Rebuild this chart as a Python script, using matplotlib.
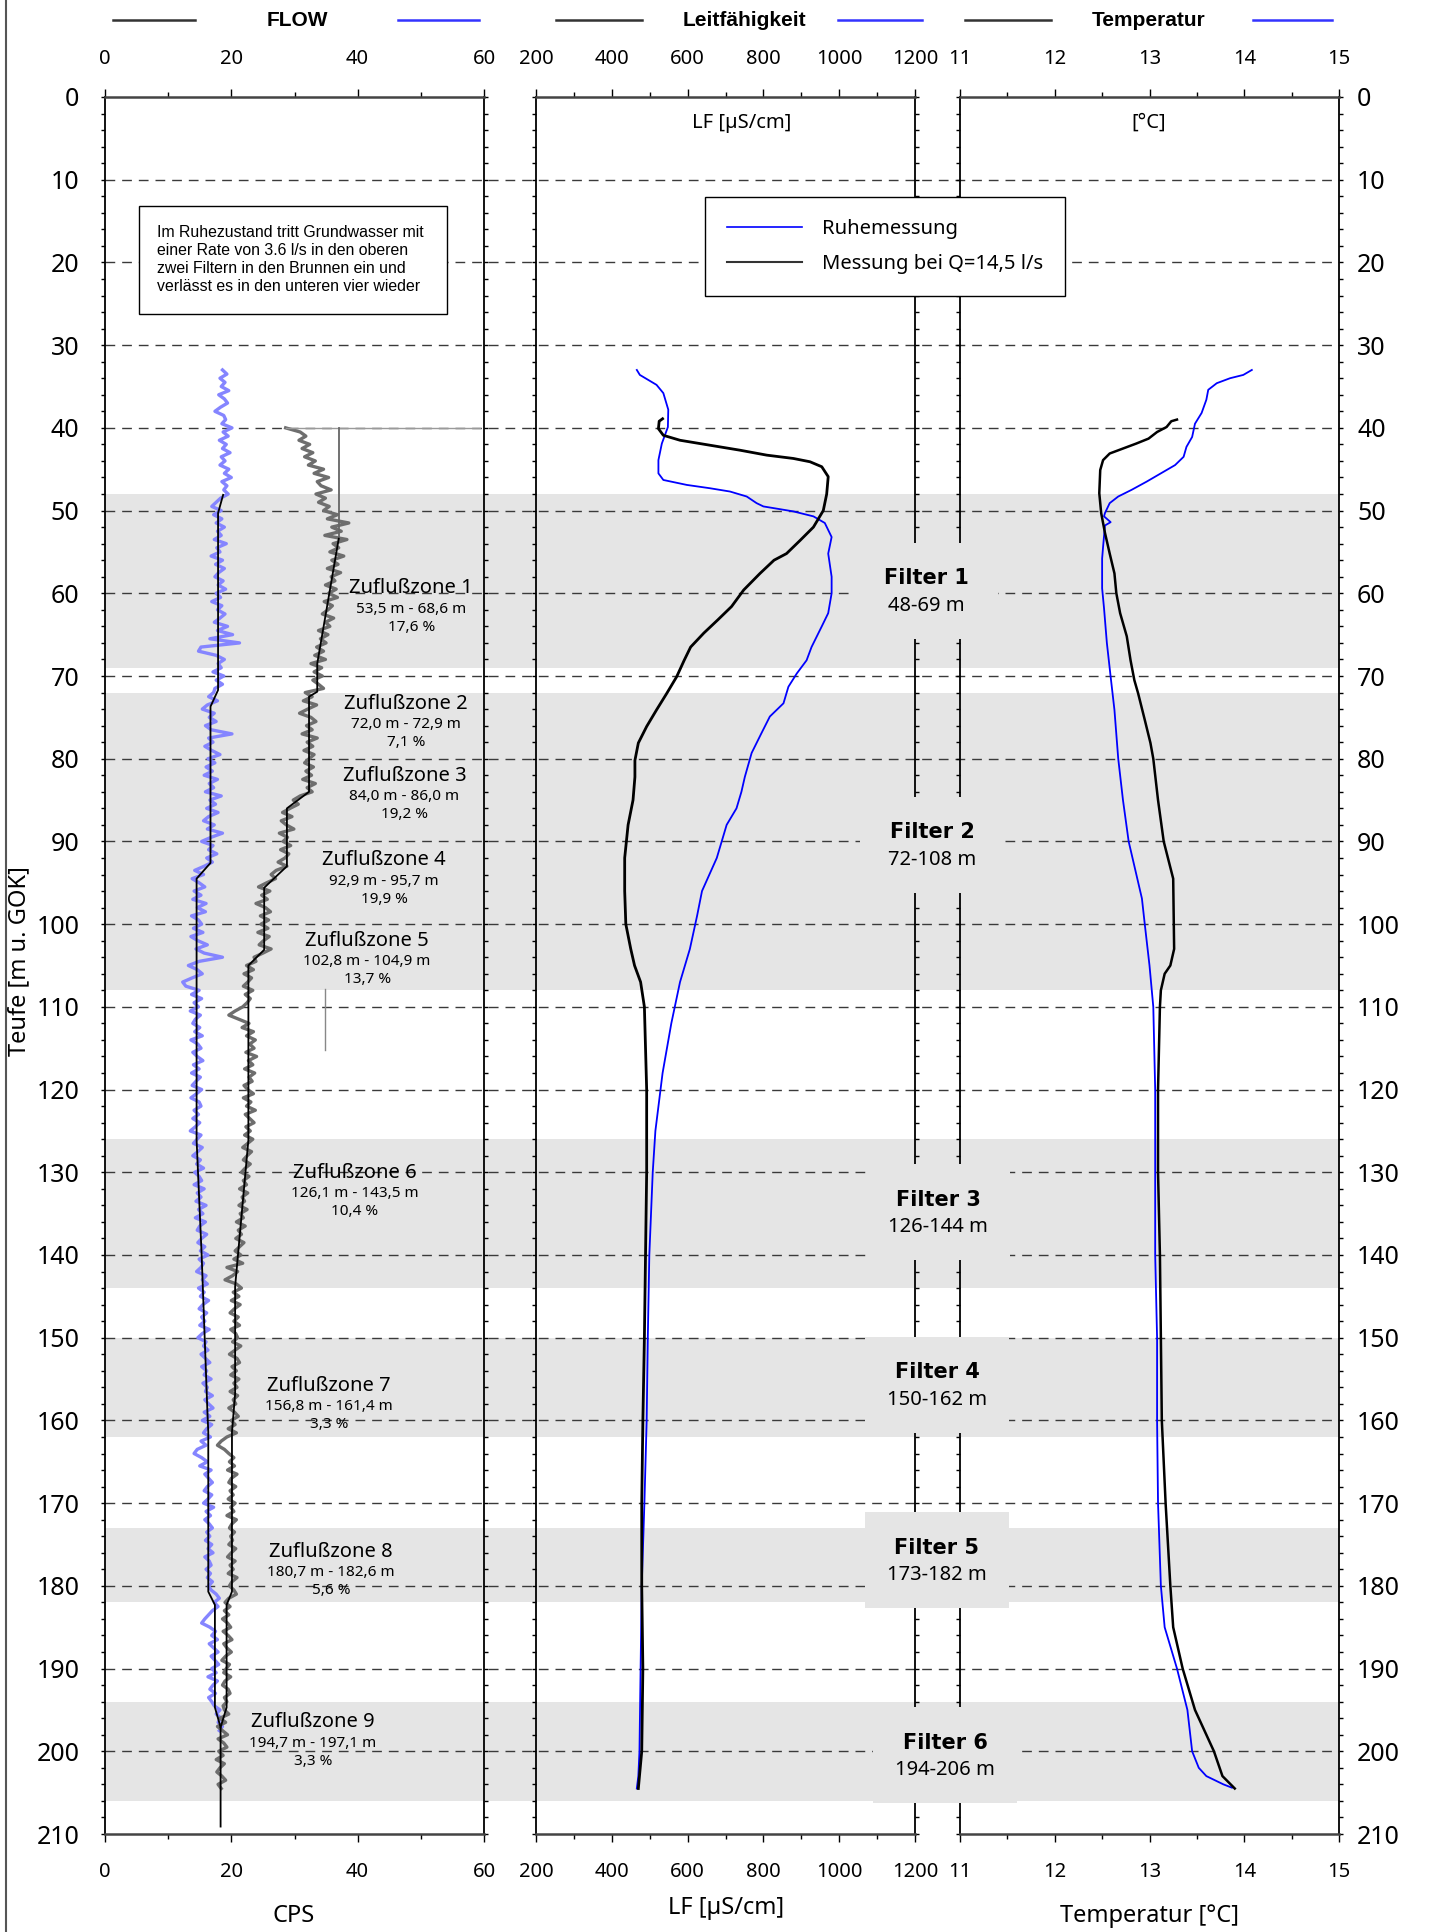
import numpy as np
import matplotlib
matplotlib.use("Agg")
import matplotlib.pyplot as plt
from matplotlib.lines import Line2D
from matplotlib.patches import Rectangle
from matplotlib.transforms import blended_transform_factory

plt.rcParams['font.family'] = ['Noto Sans', 'DejaVu Sans']

# ---------------- data ----------------
# filter sections of the well (m below ground)
filter_top = [48, 72, 126, 150, 173, 194]
filter_bottom = [69, 108, 144, 162, 182, 206]
filter_names = ["Filter 1", "Filter 2", "Filter 3", "Filter 4", "Filter 5", "Filter 6"]
filter_ranges = ["48-69 m", "72-108 m", "126-144 m", "150-162 m", "173-182 m", "194-206 m"]

# inflow zones from the flowmeter
zone_names = ["Zuflußzone 1", "Zuflußzone 2", "Zuflußzone 3", "Zuflußzone 4", "Zuflußzone 5",
              "Zuflußzone 6", "Zuflußzone 7", "Zuflußzone 8", "Zuflußzone 9"]
zone_ranges = ["53,5 m - 68,6 m", "72,0 m - 72,9 m", "84,0 m - 86,0 m", "92,9 m - 95,7 m",
               "102,8 m - 104,9 m", "126,1 m - 143,5 m", "156,8 m - 161,4 m",
               "180,7 m - 182,6 m", "194,7 m - 197,1 m"]
zone_shares = ["17,6 %", "7,1 %", "19,2 %", "19,9 %", "13,7 %", "10,4 %", "3,3 %", "5,6 %", "3,3 %"]

# flowmeter, Ruhemessung (CPS), every 0.5 m from 33 m
ruhe_depth = np.arange(33.0, 197.75, 0.5)
ruhe_cps = [
    18.6, 19.3, 18.2, 19.0, 18.4, 19.6, 18.0, 18.9, 19.4, 18.3,
    17.4, 18.8, 19.1, 18.5, 20.1, 18.7, 19.5, 18.1, 19.2, 18.6,
    19.8, 18.4, 19.0, 18.2, 19.6, 18.9, 20.0, 18.5, 19.3, 18.8,
    19.5, 18.3, 17.6, 16.9, 18.4, 17.2, 18.5, 17.6, 18.9, 17.8,
    18.4, 17.3, 19.2, 17.7, 18.2, 16.8, 18.6, 17.5, 18.9, 18.0,
    17.4, 18.7, 17.9, 19.1, 17.6, 18.3, 16.9, 18.5, 17.8, 19.0,
    18.2, 17.3, 19.4, 17.8, 20.2, 16.6, 21.3, 15.2, 14.8, 17.6,
    18.9, 17.9, 18.4, 17.1, 18.8, 17.6, 18.6, 17.4, 17.2, 16.4,
    17.8, 16.2, 15.4, 17.3, 16.5, 17.6, 15.9, 16.8, 20.1, 16.4,
    17.1, 15.8, 16.9, 18.2, 16.3, 17.4, 16.0, 17.0, 15.7, 17.8,
    16.5, 17.2, 15.9, 18.4, 16.6, 17.5, 16.1, 17.9, 16.4, 15.6,
    17.3, 16.2, 18.6, 16.8, 15.3, 17.1, 16.4, 17.7, 16.1, 17.0,
    15.7, 14.2, 15.6, 13.8, 14.9, 15.8, 14.1, 15.2, 13.9, 16.0,
    14.6, 15.9, 13.7, 14.8, 15.3, 14.0, 15.5, 13.6, 14.7, 16.2,
    14.4, 15.7, 18.6, 14.9, 13.2, 14.6, 15.4, 13.8, 12.3, 12.8,
    14.9, 13.7, 15.3, 14.1, 14.8, 13.5, 15.1, 14.3, 13.9, 15.0,
    14.2, 15.4, 13.6, 14.7, 15.2, 13.9, 14.6, 15.5, 14.0, 14.9,
    13.7, 15.1, 14.4, 13.8, 15.3, 14.5, 13.6, 14.9, 15.2, 14.1,
    14.8, 13.9, 15.0, 14.3, 13.5, 15.2, 14.6, 14.0, 15.4, 14.7,
    13.9, 15.1, 14.5, 15.6, 14.2, 14.9, 15.3, 14.1, 15.7, 14.6,
    15.2, 14.4, 16.0, 14.8, 15.5, 14.3, 15.9, 15.0, 14.6, 16.1,
    15.3, 14.7, 15.8, 15.1, 16.3, 14.9, 15.6, 15.2, 14.5, 16.0,
    15.4, 16.2, 14.8, 15.7, 15.1, 16.4, 15.5, 14.9, 16.1, 15.3,
    15.8, 15.0, 16.5, 15.4, 14.7, 16.0, 15.6, 16.3, 15.2, 15.9,
    16.6, 15.3, 16.1, 15.7, 16.8, 15.5, 16.2, 15.9, 17.0, 15.8,
    16.4, 17.1, 15.7, 16.6, 15.4, 16.9, 16.1, 15.6, 16.7, 15.2,
    16.0, 14.6, 14.1, 15.3, 16.2, 15.0, 16.8, 15.8, 16.4, 17.0,
    16.2, 15.7, 16.9, 16.3, 15.6, 17.2, 16.0, 16.7, 15.8, 16.5,
    17.0, 16.1, 16.6, 15.9, 16.9, 16.3, 17.1, 15.8, 16.5, 16.8,
    16.0, 16.7, 16.2, 17.0, 16.4, 16.8, 17.6, 18.1, 17.3, 17.9,
    17.0, 16.4, 15.8, 15.3, 16.6, 17.5, 16.9, 17.8, 16.5, 17.2,
    17.9, 16.8, 17.4, 18.0, 16.9, 17.6, 16.3, 17.8, 17.1, 16.6,
    17.5, 16.4, 16.9, 17.3, 18.2, 17.6, 18.4, 17.9, 18.6, 18.1,
]

# flowmeter, Messung bei Q=14,5 l/s (CPS), every 0.5 m from 40 m
pump_depth = np.arange(40.0, 204.75, 0.5)
pump_cps = [
    28.6, 30.9, 31.8, 30.7, 32.4, 31.2, 32.9, 31.6, 33.3, 32.2,
    34.6, 33.1, 35.4, 33.6, 34.2, 35.8, 33.4, 34.9, 33.8, 35.5,
    34.6, 36.8, 35.2, 38.6, 35.9, 37.4, 34.8, 38.3, 36.1, 37.0,
    35.6, 37.8, 35.9, 36.9, 35.2, 37.3, 35.8, 36.4, 34.9, 36.6,
    35.4, 36.8, 34.7, 36.0, 35.3, 34.4, 36.2, 34.9, 35.6, 33.8,
    35.3, 34.1, 35.0, 33.5, 34.6, 33.2, 34.9, 32.6, 34.3, 33.1,
    34.4, 32.9, 33.8, 34.6, 31.7, 32.8, 31.4, 33.5, 32.1, 30.8,
    32.6, 33.4, 31.9, 32.8, 31.2, 33.6, 32.0, 32.9, 31.5, 33.1,
    32.3, 31.6, 33.0, 31.8, 32.7, 31.3, 33.3, 32.0, 32.8, 30.9,
    29.8, 30.6, 29.3, 28.1, 29.6, 27.9, 28.7, 29.9, 27.6, 28.9,
    28.2, 29.4, 27.8, 29.1, 28.5, 27.4, 28.8, 27.1, 26.3, 27.0,
    25.6, 24.3, 26.1, 24.8, 25.7, 23.9, 25.4, 26.2, 24.6, 25.9,
    24.7, 25.8, 24.2, 26.0, 25.1, 24.4, 26.3, 25.0, 23.6, 23.9,
    22.4, 23.5, 22.0, 23.2, 22.6, 21.9, 23.4, 22.2, 23.0, 22.5,
    21.8, 20.6, 19.6, 21.2, 22.8, 21.7, 23.5, 22.4, 23.8, 22.9,
    23.6, 22.3, 24.0, 22.7, 23.4, 22.1, 23.7, 22.8, 23.3, 22.0,
    22.6, 23.5, 21.9, 23.1, 22.4, 23.8, 22.2, 22.9, 23.6, 22.3,
    23.0, 22.1, 23.4, 22.6, 21.8, 23.2, 22.5, 21.9, 23.0, 22.2,
    21.6, 22.8, 21.9, 22.4, 21.3, 22.6, 21.7, 22.1, 21.2, 22.5,
    21.4, 21.9, 20.8, 22.2, 21.1, 21.6, 20.7, 22.0, 21.3, 20.6,
    21.5, 20.4, 21.8, 19.3, 21.0, 20.2, 19.0, 20.8, 21.6, 20.3,
    21.2, 20.0, 21.4, 20.5, 19.8, 21.1, 20.4, 21.3, 19.9, 20.7,
    21.0, 20.2, 21.5, 20.6, 19.7, 20.9, 21.3, 20.1, 20.8, 19.9,
    21.2, 20.4, 20.9, 19.8, 21.0, 20.3, 20.7, 19.6, 20.5, 21.1,
    20.0, 20.6, 19.5, 20.8, 19.3, 18.4, 17.8, 18.9, 19.6, 20.4,
    19.7, 20.5, 19.4, 20.9, 20.0, 19.6, 20.7, 19.8, 20.3, 19.5,
    20.6, 19.9, 20.4, 19.3, 20.8, 20.1, 19.7, 20.5, 19.9, 20.2,
    19.6, 20.7, 20.0, 19.4, 20.6, 19.8, 20.3, 19.5, 20.9, 20.1,
    19.7, 20.4, 20.8, 19.6, 19.0, 19.8, 18.9, 19.6, 18.6, 19.4,
    19.9, 18.7, 19.5, 20.1, 18.8, 19.3, 20.0, 19.1, 18.5, 19.7,
    19.2, 18.8, 19.9, 19.0, 18.6, 19.5, 19.8, 18.9, 19.3, 18.7,
    18.9, 19.6, 18.2, 19.1, 17.8, 18.6, 19.4, 17.9, 18.8, 19.3,
    18.0, 18.7, 17.6, 18.9, 18.2, 17.7, 18.5, 19.1, 17.9, 18.4,
]
# first logged point of the pumping run (probe entering at 40 m)
pump_start_cps = [59.3, 28.6]
pump_start_depth = [40.0, 40.0]

# fitted flow profiles
ruhe_fit_cps = [18.7, 17.9, 17.9, 16.7, 16.7, 14.5, 14.5, 15.3, 16.2, 16.35, 16.35, 17.4, 17.4, 18.3, 18.3]
ruhe_fit_depth = [48.1, 50.3, 71.7, 73.7, 92.6, 94.5, 126.1, 140.0, 158.7, 161.4, 180.7, 182.3, 194.7, 197.1, 209.1]
pump_fit_top_cps = [37.0, 37.0]
pump_fit_top_depth = [40.0, 53.4]
pump_fit_cps = [37.0, 33.6, 33.6, 32.3, 32.3, 28.8, 28.8, 25.2, 25.2, 22.7, 22.7, 20.6, 20.6,
                20.1, 20.1, 19.25, 19.25, 18.3]
pump_fit_depth = [53.4, 68.5, 71.9, 72.5, 84.0, 86.0, 93.0, 95.6, 103.1, 105.0, 126.1, 143.8, 156.8,
                  161.4, 180.7, 182.3, 194.7, 197.1]
mark_cps = [34.9, 34.9]
mark_depth = [107.8, 115.2]

# conductivity (uS/cm)
lf_ruhe_depth = [33.0, 33.6, 34.8, 35.8, 37.8, 39.9, 41.9, 43.9, 45.5, 46.3, 46.9, 47.3, 47.7, 48.3,
                 49.1, 49.5, 50.1, 50.7, 51.5, 53.2, 55.2, 58.0, 60.0, 62.4, 64.0, 66.5, 68.1, 69.7,
                 71.3, 73.3, 74.9, 76.9, 79.3, 82.2, 84, 86, 88, 92, 96, 99, 103, 107, 112, 118,
                 125, 130, 140, 150, 160, 170, 180, 190, 200, 203, 204.5]
lf_ruhe = [466, 474, 518, 536, 549, 548, 532, 523, 523, 536, 598, 659, 712, 756,
           782, 800, 879, 932, 962, 980, 971, 980, 980, 971, 954, 927, 914, 888,
           866, 853, 817, 795, 769, 751, 742, 729, 703, 677, 638, 625, 606, 580, 557, 534,
           515, 508, 499, 495, 492, 486, 479, 476, 473, 470, 466]
lf_pump_depth = [38.9, 39.2, 40.1, 40.9, 41.5, 42.1, 42.7, 43.3, 43.7, 44.1, 44.7, 45.9, 48.0, 50.0,
                 52.0, 53.6, 55.2, 56.0, 57.6, 59.6, 61.6, 63.2, 64.8, 66.5, 68.1, 70.1, 72.1, 74.1,
                 76.1, 78.1, 80.2, 82.2, 85, 88, 92, 96, 100, 103, 105, 107, 110, 115, 120, 130,
                 140, 150, 160, 170, 180, 190, 200, 204.5]
lf_pump = [534, 525, 523, 536, 580, 659, 738, 809, 879, 923, 954, 971, 967, 958,
           932, 897, 861, 828, 791, 748, 716, 680, 643, 608, 591, 571, 545, 518,
           492, 470, 461, 461, 456, 443, 434, 434, 437, 450, 460, 476, 486, 489, 492, 492,
           489, 486, 482, 479, 479, 482, 479, 470]

# temperature (degC)
t_ruhe_depth = [33.0, 33.6, 34.0, 34.6, 35.4, 36.6, 38.2, 39.5, 41.1, 42.3, 43.5, 44.5, 45.3, 46.5,
                47.5, 48.3, 49.1, 50.3, 50.7, 51.4, 51.8, 54.4, 55.8, 59.4, 61.8, 66.0, 70.1, 74.1,
                80.0, 85, 90.0, 96.9, 100, 105, 110, 115, 120, 130, 140, 150, 160, 170, 180, 185,
                190, 195, 200, 202, 203, 204, 204.4]
t_ruhe = [14.08, 13.99, 13.85, 13.71, 13.62, 13.60, 13.55, 13.48, 13.45, 13.39, 13.36, 13.27, 13.15, 12.97,
          12.81, 12.67, 12.58, 12.53, 12.52, 12.59, 12.53, 12.51, 12.50, 12.50, 12.52, 12.55, 12.59, 12.63,
          12.67, 12.72, 12.78, 12.92, 12.95, 13.00, 13.04, 13.05, 13.06, 13.06, 13.06, 13.08, 13.08, 13.09,
          13.12, 13.16, 13.29, 13.40, 13.45, 13.52, 13.60, 13.78, 13.87]
t_pump_depth = [39.0, 39.2, 39.9, 40.5, 41.3, 41.9, 42.5, 43.1, 43.9, 45.1, 47.9, 50.3, 52.7, 55.2,
                57.6, 60.0, 62.4, 65.2, 68.1, 70.5, 72.1, 75.3, 78.1, 80.0, 85, 90.0, 94.5, 103,
                105, 106, 108, 110, 120, 130, 140, 150, 160, 170, 180, 185, 190, 195, 200, 203, 204.5]
t_pump = [13.29, 13.23, 13.18, 13.08, 12.99, 12.86, 12.72, 12.58, 12.51, 12.48, 12.47, 12.49, 12.53, 12.58,
          12.63, 12.65, 12.69, 12.76, 12.80, 12.84, 12.88, 12.95, 13.01, 13.04, 13.09, 13.15, 13.25, 13.26,
          13.22, 13.16, 13.12, 13.11, 13.09, 13.09, 13.11, 13.12, 13.13, 13.17, 13.22, 13.25, 13.35, 13.48,
          13.68, 13.77, 13.90]

depth_ticks = np.arange(0, 211, 10)

note_text = ("Im Ruhezustand tritt Grundwasser mit\n"
             "einer Rate von 3.6 l/s in den oberen\n"
             "zwei Filtern in den Brunnen ein und\n"
             "verlässt es in den unteren vier wieder")

# ---------------- layout (pixels of the 1429x1932 picture) ----------------
W, H = 1429, 1932
def fx(px):
    return px / W
def fy(py):
    return 1 - py / H

top_px, bot_px = 97, 1834
panels_px = [(105, 484), (536, 915), (960, 1339)]
band_color = '#e5e5e5'
arial = ['Liberation Sans', 'DejaVu Sans']

fig = plt.figure(figsize=(W / 100, H / 100), dpi=100)

# background: filter bands and dashed depth lines across all panels
bg = fig.add_axes([fx(105), fy(bot_px), (1339 - 105) / W, (bot_px - top_px) / H], zorder=0)
bg.set_xlim(0, 1)
bg.set_ylim(210, 0)
bg.axis('off')
for t, b in zip(filter_top, filter_bottom):
    bg.axhspan(t, b, color=band_color, lw=0)
for d in depth_ticks[1:-1]:
    bg.axhline(d, color='#3a3a3a', lw=1.0, ls=(0, (7, 5)))

xlims = [(0, 60), (200, 1200), (11, 15)]
xmaj = [20, 200, 1]
xmin = [10, 100, 0.5]
axes = []
for i, (l, r) in enumerate(panels_px):
    ax = fig.add_axes([fx(l), fy(bot_px), (r - l) / W, (bot_px - top_px) / H], zorder=1)
    ax.patch.set_visible(False)
    ax.set_xlim(*xlims[i])
    ax.set_ylim(210, 0)
    ax.set_xticks(np.arange(xlims[i][0], xlims[i][1] + xmaj[i] / 2, xmaj[i]))
    ax.set_xticks(np.arange(xlims[i][0], xlims[i][1] + xmin[i] / 2, xmin[i]), minor=True)
    ax.set_yticks(depth_ticks)
    ax.set_yticks(np.arange(0, 211, 2), minor=True)
    ax.tick_params(axis='x', which='both', direction='out', top=True, bottom=True,
                   labeltop=True, labelbottom=True, labelsize=14.5, pad=14, width=1)
    ax.tick_params(axis='x', which='major', length=6)
    ax.tick_params(axis='x', which='minor', length=3.6)
    ax.tick_params(axis='y', which='both', direction='out', left=True, right=True,
                   labelleft=False, labelright=False, length=3, width=1, labelsize=18)
    for s in ['left', 'right']:
        ax.spines[s].set_linewidth(1.3)
    for s in ['top', 'bottom']:
        ax.spines[s].set_linewidth(1.8)
        ax.spines[s].set_color('#444444')
    axes.append(ax)

ax1, ax2, ax3 = axes
ax1.tick_params(axis='y', labelleft=True, pad=15.5)
ax3.tick_params(axis='y', labelright=True, pad=10)

# ---- FLOW ----
ax1.plot(ruhe_cps, ruhe_depth, color='#8585ff', lw=2.4)
ax1.plot(pump_cps, pump_depth, color='#6e6e6e', lw=2.4)
ax1.plot(pump_start_cps, pump_start_depth, color='#9a9a9a', lw=1.0)
ax1.plot(ruhe_fit_cps, ruhe_fit_depth, color='black', lw=1.3)
ax1.plot(pump_fit_top_cps, pump_fit_top_depth, color='#666666', lw=1.3)
ax1.plot(pump_fit_cps, pump_fit_depth, color='black', lw=1.3)
ax1.plot(mark_cps, mark_depth, color='#888888', lw=1.0)

zone_x = [48.5, 47.7, 47.4, 44.2, 41.5, 39.5, 35.5, 35.8, 32.9]
zone_y = [59.4, 73.4, 82.1, 92.3, 102.0, 130.1, 155.8, 175.9, 196.5]
for name, rng, share, x, y in zip(zone_names, zone_ranges, zone_shares, zone_x, zone_y):
    ax1.text(x, y, name, ha='center', va='center', size=14.5)
    ax1.text(x, y + 2.5, rng, ha='center', va='center', size=11)
    ax1.text(x, y + 4.7, share, ha='center', va='center', size=11)

ax1.add_patch(Rectangle((5.4, 13.2), 48.7, 13.0, facecolor='white', edgecolor='black', lw=1.0, zorder=3))
ax1.text(8.3, 19.7, note_text, family=arial, size=11.4,
         ha='left', va='center', linespacing=1.25, zorder=4)

# ---- Leitfaehigkeit ----
ax2.plot(lf_ruhe, lf_ruhe_depth, color='#0000ff', lw=1.3)
ax2.plot(lf_pump, lf_pump_depth, color='black', lw=2.0)

# ---- Temperatur ----
ax3.plot(t_ruhe, t_ruhe_depth, color='#0000ff', lw=1.3)
ax3.plot(t_pump, t_pump_depth, color='black', lw=1.8)

# filter labels between panel 2 and 3
tr = blended_transform_factory(fig.transFigure, bg.transData)
filter_x = [926, 932, 938, 937, 937, 945]
filter_y = [58.2, 88.9, 133.3, 154.2, 175.4, 199.0]
for name, rng, x, y in zip(filter_names, filter_ranges, filter_x, filter_y):
    box = Rectangle((fx(x - 72), y - 4.3), 144 / W, 11.6, transform=tr,
                    facecolor=band_color, edgecolor='none', zorder=2)
    fig.add_artist(box)
    fig.text(fx(x), y, name, transform=tr, ha='center', va='center', size=15,
             weight='bold', family=['DejaVu Sans'], zorder=3)
    fig.text(fx(x), y + 3.3, rng, transform=tr, ha='center', va='center', size=14.5, zorder=3)

# legend
handles = [Line2D([], [], color='#0000ff', lw=1.2), Line2D([], [], color='#333333', lw=1.5)]
leg = fig.legend(handles, ['Ruhemessung', 'Messung bei Q=14,5 l/s'], loc='upper left',
                 bbox_to_anchor=(fx(705), fy(197)), fancybox=False, edgecolor='black',
                 framealpha=1, prop={'size': 14.5}, handlelength=3.7, handletextpad=1.0,
                 borderpad=1.1, labelspacing=0.75, borderaxespad=0)
leg.get_frame().set_linewidth(1.0)

# header row
header_names = ['FLOW', 'Leitfähigkeit', 'Temperatur']
header_x = [297, 744, 1149]
header_black = [(113, 195), (556, 642), (965, 1051)]
header_blue = [(398, 479), (838, 922), (1253, 1332)]
for name, x, kb, bl in zip(header_names, header_x, header_black, header_blue):
    fig.text(fx(x), fy(20), name, ha='center', va='center', size=15, weight='bold', family=arial)
    fig.add_artist(Line2D([fx(kb[0]), fx(kb[1])], [fy(20), fy(20)], color='#333333', lw=1.8))
    fig.add_artist(Line2D([fx(bl[0]), fx(bl[1])], [fy(20), fy(20)], color='#3333ff', lw=1.8))

fig.text(fx(742), fy(123), 'LF [µS/cm]', ha='center', va='center', size=14.5)
fig.text(fx(1149), fy(123), '[°C]', ha='center', va='center', size=14.5)

fig.text(fx(294), fy(1916), 'CPS', ha='center', va='center', size=17)
fig.text(fx(726), fy(1908), 'LF [µS/cm]', ha='center', va='center', size=17)
fig.text(fx(1149), fy(1916), 'Temperatur [°C]', ha='center', va='center', size=17)
fig.text(fx(19), fy(961), 'Teufe [m u. GOK]', rotation=90, ha='center', va='center', size=17)

fig.add_artist(Line2D([fx(6), fx(6)], [0, 1], color='#555555', lw=1.5))

fig.savefig('out.png', dpi=100)
